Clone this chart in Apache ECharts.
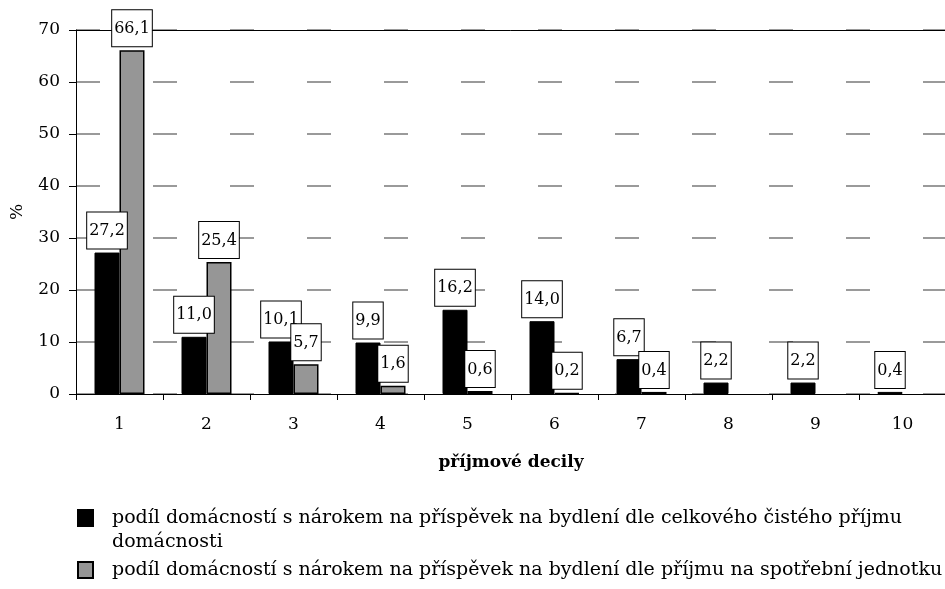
<!DOCTYPE html>
<html>
<head>
<meta charset="utf-8">
<script src="https://cdn.jsdelivr.net/npm/echarts@6/dist/echarts.min.js"></script>
<style>
  html, body { margin: 0; padding: 0; background: #fff; }
  #chart { width: 945px; height: 589px; }
</style>
</head>
<body>
<div id="chart"></div>
<script>
// categories and values
var deciles = ["1", "2", "3", "4", "5", "6", "7", "8", "9", "10"];
var totalIncome = [27.2, 11.0, 10.1, 9.9, 16.2, 14.0, 6.7, 2.2, 2.2, 0.4];
var perUnitIncome = [66.1, 25.4, 5.7, 1.6, 0.6, 0.2, 0.4, null, null, null];
var seriesNames = [
  "podíl domácností s nárokem na příspěvek na bydlení dle celkového čistého příjmu domácnosti",
  "podíl domácností s nárokem na příspěvek na bydlení dle příjmu na spotřební jednotku"
];
var yTicks = [0, 10, 20, 30, 40, 50, 60, 70];

var FONT = "DejaVu Serif";

var myChart = echarts.init(document.getElementById("chart"));

var labelStyle = {
  show: true,
  position: "top",
  distance: 4,
  color: "#000",
  fontFamily: FONT,
  fontSize: 16,
  lineHeight: 19,
  backgroundColor: "#fff",
  borderColor: "#000",
  borderWidth: 1,
  padding: [9, 2, 8, 2],
  formatter: function (p) {
    return p.value.toFixed(1).replace(".", ",");
  }
};

var option = {
  animation: false,
  textStyle: { fontFamily: FONT },
  grid: { left: 76, top: 30, width: 870, bottom: 195, outerBoundsMode: "none", containLabel: false },
  legend: {
    orient: "vertical",
    left: 77,
    top: 482,
    padding: 0,
    icon: "rect",
    itemWidth: 15,
    itemHeight: 16,
    itemGap: 4,
    textStyle: { fontFamily: FONT, fontSize: 19, color: "#000", lineHeight: 24, padding: [0, 0, 0, 14] },
    formatter: function (name) {
      // first entry wraps onto two lines; a blank line above keeps the icon beside the first line
      if (name === seriesNames[0]) {
        return " \n" + name.replace(" příjmu domácnosti", " příjmu\ndomácnosti");
      }
      return name;
    }
  },
  xAxis: [
    {
      type: "category",
      data: deciles,
      name: "příjmové decily",
      nameLocation: "middle",
      nameGap: 60,
      nameTextStyle: { fontFamily: FONT, fontSize: 17, fontWeight: "bold", color: "#000" },
      axisLine: { lineStyle: { color: "#000", width: 1 } },
      axisTick: { show: true, length: 6, lineStyle: { color: "#000" } },
      axisLabel: { fontFamily: FONT, fontSize: 17, color: "#000", margin: 22 }
    },
    {
      // top border of the plot area
      type: "category",
      position: "top",
      data: deciles,
      axisLine: { show: true, lineStyle: { color: "#000", width: 1 } },
      axisTick: { show: false },
      axisLabel: { show: false }
    }
  ],
  yAxis: {
    type: "value",
    min: 0,
    max: 70,
    interval: 10,
    name: "%",
    nameLocation: "middle",
    nameRotate: 90,
    nameGap: 50,
    nameTextStyle: { fontFamily: FONT, fontSize: 17, color: "#000" },
    axisLine: { show: true, lineStyle: { color: "#000", width: 1 } },
    axisTick: { show: true, inside: false, length: 7, lineStyle: { color: "#000" } },
    axisLabel: {
      fontFamily: FONT, fontSize: 17, color: "#000", margin: 16,
      formatter: function (v) { return yTicks.indexOf(v) >= 0 ? String(v) : ""; }
    },
    splitLine: {
      show: true,
      lineStyle: { color: "#7a7a7a", width: 1.5, type: [24, 53] }
    }
  },
  series: [
    {
      name: seriesNames[0],
      type: "bar",
      data: totalIncome,
      barWidth: 25,
      barGap: "0%",
      itemStyle: { color: "#000", borderColor: "#000", borderWidth: 1 },
      label: labelStyle
    },
    {
      name: seriesNames[1],
      type: "bar",
      data: perUnitIncome,
      barWidth: 25,
      barGap: "0%",
      itemStyle: { color: "#969696", borderColor: "#000", borderWidth: 1.5 },
      label: labelStyle
    }
  ]
};

option && myChart.setOption(option);
</script>
</body>
</html>
